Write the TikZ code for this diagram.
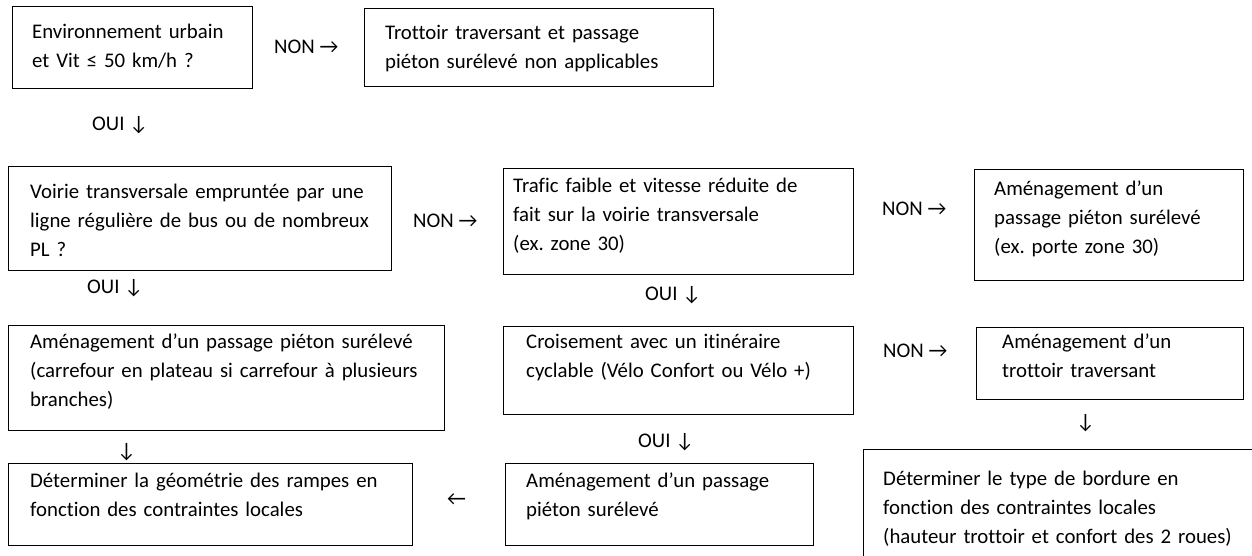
\documentclass[tikz,border=0pt]{standalone}
\usepackage{fontspec}
\setmainfont{Carlito}[Ligatures={NoCommon}]
\begin{document}
\frenchspacing
\begin{tikzpicture}[x=1pt,y=-1pt,
  box/.style={draw=black,line width=1pt,anchor=north west,inner sep=0pt,fill=none},
  txt/.style={anchor=north west,inner sep=0pt,text width=440pt,align=left,
    font=\fontsize{20.8}{29.2}\selectfont\frenchspacing},
  lbl/.style={anchor=base west,inner sep=0pt,font=\fontsize{20.8}{29.2}\selectfont}]
\clip (0,0) rectangle (1252,555);
\fill[white] (0,0) rectangle (1252,555);
% boxes
\node[box,minimum width=240pt,minimum height=82pt] (b1) at (12,6) {};
\node[box,minimum width=349pt,minimum height=78pt] (b2) at (364,8) {};
\node[box,minimum width=383pt,minimum height=104pt] (b3) at (8,166) {};
\node[box,minimum width=350pt,minimum height=106pt] (b4) at (503,168) {};
\node[box,minimum width=269pt,minimum height=111pt] (b5) at (974,169) {};
\node[box,minimum width=436pt,minimum height=105pt] (b6) at (8,325) {};
\node[box,minimum width=404pt,minimum height=82pt] (b7) at (8,463) {};
\node[box,minimum width=350pt,minimum height=88pt] (b8) at (503,326) {};
\node[box,minimum width=308pt,minimum height=82pt] (b9) at (505,463) {};
\node[box,minimum width=420pt,minimum height=120pt] (b10) at (863,449) {};
\node[box,minimum width=267pt,minimum height=72pt] (b11) at (976,327) {};
% texts
\node[txt] (t1) at (32,17.5) {\strut Environnement urbain\\et Vit ≤ 50 km/h ?};
\node[txt] (t2) at (385,18.5) {\strut Trottoir traversant et passage\\piéton surélevé non applicables};
\node[txt] (t3) at (30,177.5) {\strut Voirie transversale empruntée par une\\ligne régulière de bus ou de nombreux\\PL ?};
\node[txt] (t4) at (513,171.5) {\strut Trafic faible et vitesse réduite de\\fait sur la voirie transversale\\(ex. zone 30)};
\node[txt] (t5) at (994,174.5) {\strut Aménagement d’un\\passage piéton surélevé\\(ex. porte zone 30)};
\node[txt] (t6) at (30,327.5) {\strut Aménagement d’un passage piéton surélevé\\(carrefour en plateau si carrefour à plusieurs\\branches)};
\node[txt] (t7) at (30,466.5) {\strut Déterminer la géométrie des rampes en\\fonction des contraintes locales};
\node[txt] (t8) at (526,327.5) {\strut Croisement avec un itinéraire\\cyclable (Vélo Confort ou Vélo +)};
\node[txt] (t9) at (526,466.5) {\strut Aménagement d’un passage\\piéton surélevé};
\node[txt] (t10) at (883,464.5) {\strut Déterminer le type de bordure en\\fonction des contraintes locales\\(hauteur trottoir et confort des 2 roues)};
\node[txt] (t11) at (1002,327.5) {\strut Aménagement d’un\\trottoir traversant};
% labels
\node[lbl] (l1) at (274,53) {NON →};
\node[lbl] (l2) at (92,130) {OUI ↓};
\node[lbl] (l3) at (87,293) {OUI ↓};
\node[lbl] (l4) at (413,227) {NON →};
\node[lbl] (l5) at (645,300) {OUI ↓};
\node[lbl] (l6) at (882,215) {NON →};
\node[lbl] (l7) at (883,357) {NON →};
\node[lbl] (l8) at (638,447) {OUI ↓};
\node[lbl] (l9) at (117,457) {↓};
\node[lbl] (l10) at (447,505) {←};
\node[lbl] (l11) at (1076,428) {↓};
\end{tikzpicture}
\end{document}
